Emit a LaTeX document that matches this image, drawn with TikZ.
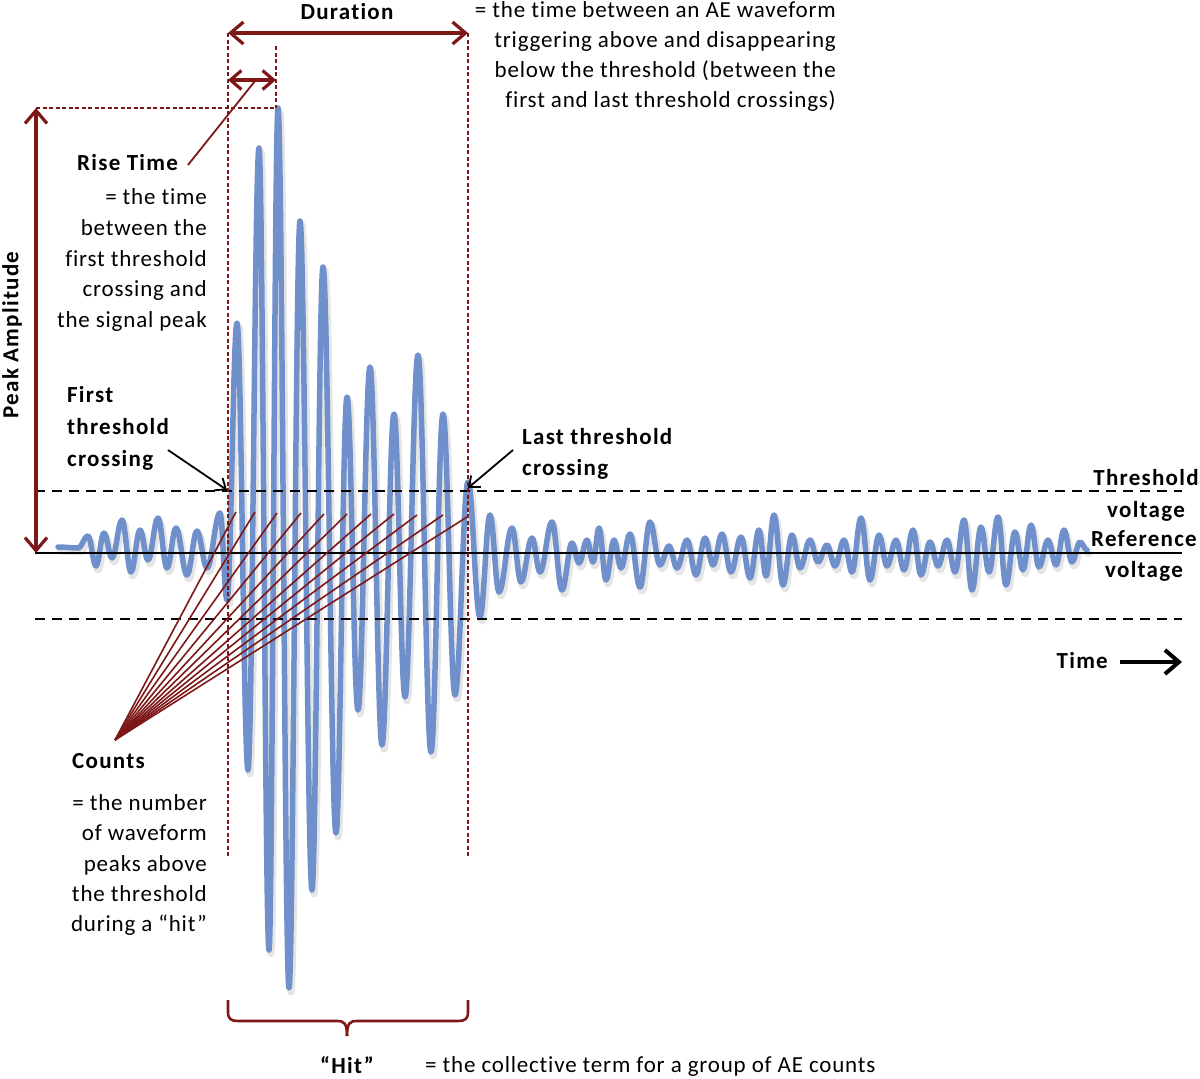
\documentclass[tikz,border=0pt]{standalone}
\usepackage{fontspec}
\setmainfont{Carlito}[LetterSpace=3.5, Ligatures=NoCommon, BoldFeatures={LetterSpace=5.5}]
\usetikzlibrary{arrows.meta}
\definecolor{wave}{RGB}{111,144,203}
\definecolor{dred}{RGB}{125,24,24}
\tikzset{
  wavestyle/.style={wave, line width=5.5pt, line join=round, line cap=round},
  shadowstyle/.style={black, opacity=0.10, line width=7pt, line join=round, line cap=round},
  thr/.style={black, line width=2.4pt, dash pattern=on 10pt off 7pt},
  refl/.style={black, line width=1.8pt},
  rdash/.style={dred, line width=1.3pt, dash pattern=on 4pt off 2.5pt},
  rarrow/.style={dred, line width=3.2pt, {Straight Barb[length=13pt,width=22pt]}-{Straight Barb[length=13pt,width=22pt]}},
  rsmall/.style={dred, line width=3.2pt, {Straight Barb[length=11pt,width=19pt]}-{Straight Barb[length=11pt,width=19pt]}},
  fanline/.style={dred, line width=1.6pt},
  leader/.style={dred, line width=1.8pt},
  barrow/.style={black, line width=1.8pt, -{Straight Barb[length=9pt,width=15pt]}},
  tarrow/.style={black, line width=4pt, -{Straight Barb[length=14pt,width=24pt]}},
  lbl/.style={font=\fontsize{23}{30.5}\selectfont, inner sep=0pt},
  blbl/.style={font=\fontsize{23}{30.5}\selectfont\bfseries, inner sep=0pt},
}
\newcommand\wavepts{78/548, 88/536, 96/566, 104/533, 112/558, 122/520, 131/572, 140/530, 148/560, 158/518, 167/568, 176/528, 187/575, 197/531, 207/568, 220/513, 227/600,
237/323, 248/770, 259/148, 269/950, 278/108, 289/988, 300/221, 312/890, 323/267, 336/833, 347/397, 358/710, 370/367, 382/745, 394/414, 405/697, 418/355, 431/752, 443/414, 455/695, 468/482, 480/617,
490/515, 499/592, 512/528, 521/582, 532/538, 540/572, 552/522, 562/590, 572/543, 579/563, 587/540, 593/562, 599/528, 606/580, 614/540, 621/568, 630/534, 640/587, 650/522, 660/565, 669/546, 677/568, 687/540, 696/575, 705/538, 713/565, 722/534, 731/572, 741/537, 750/578, 759/530, 766/576, 774/515, 783/585, 792/535, 800/568, 810/540, 818/562, 827/545, 835/566, 844/540, 852/572, 861/518, 870/580, 879/535, 887/566, 896/540, 904/570, 913/530, 921/575, 930/542, 938/566, 947/540, 955/572, 964/520, 972/590, 981/527, 989/572, 998/517, 1006/585, 1015/532, 1023/570, 1031/525, 1039/567, 1048/540, 1056/565, 1064/530, 1072/562, 1080/542, 1087/550}
\begin{document}
\begin{tikzpicture}[x=1pt,y=-1pt]
\useasboundingbox (0,0) rectangle (1200,1079);
\fill[white] (0,0) rectangle (1200,1079);

% waveform shadow and waveform
\draw[shadowstyle, shift={(2,4)}] (58,547)
  \foreach \x/\y [remember=\x as \px (initially 58), remember=\y as \py (initially 547)] in \wavepts
  { .. controls ({\px+0.38*(\x-\px)},\py) and ({\x-0.38*(\x-\px)},\y) .. (\x,\y) };
\draw[wavestyle] (58,547)
  \foreach \x/\y [remember=\x as \px (initially 58), remember=\y as \py (initially 547)] in \wavepts
  { .. controls ({\px+0.38*(\x-\px)},\py) and ({\x-0.38*(\x-\px)},\y) .. (\x,\y) };

% key coordinates
\coordinate (durL) at (228,33);
\coordinate (durR) at (468,33);
\coordinate (durLb) at (228,857);
\coordinate (durRb) at (468,857);
\coordinate (riseL) at (228,80);
\coordinate (riseR) at (276,80);
\coordinate (peakTop) at (276,46);
\coordinate (peak) at (276,108);
\coordinate (ampTop) at (36,108);
\coordinate (ampBot) at (36,553);
\coordinate (refL) at (35,553);
\coordinate (refR) at (1182,553);
\coordinate (thrL) at (35,491);
\coordinate (thrR) at (1182,491);
\coordinate (lowL) at (35,619);
\coordinate (lowR) at (1182,619);
\coordinate (firstX) at (227,490);
\coordinate (firstT) at (168,450);
\coordinate (lastX) at (468,488);
\coordinate (lastT) at (513,450);
\coordinate (riseTail) at (188,165);
\coordinate (riseHead) at (255,81);
\coordinate (timeA) at (1120,662);
\coordinate (timeB) at (1182,662);
\coordinate (fan) at (115,740);

% threshold and reference lines
\draw[thr] (thrL) -- (thrR);
\draw[thr] (lowL) -- (lowR);
\draw[refl] (refL) -- (refR);

% red dashed guides
\draw[rdash] (durL) -- (durLb);
\draw[rdash] (durR) -- (durRb);
\draw[rdash] (peakTop) -- (peak);
\draw[rdash] (ampTop) -- (peak);

% red arrows
\draw[rarrow] (durL) -- (durR);
\draw[rsmall] (riseL) -- (riseR);
\draw[rarrow] (ampBot) -- (ampTop);
\draw[leader] (riseTail) -- (riseHead);

% counts fan
\foreach \i/\cx/\cy in {1/236/512, 2/255/512, 3/277/513, 4/301/513, 5/324/514, 6/347/514, 7/371/514, 8/394/514, 9/417/515, 10/443/515, 11/467/517} {
  \coordinate (c\i) at (\cx,\cy);
  \draw[fanline] (fan) -- (c\i);
}

% black arrows
\draw[barrow] (firstT) -- (firstX);
\draw[barrow] (lastT) -- (lastX);
\draw[tarrow] (timeA) -- (timeB);

% hit brace
\coordinate (brL) at (228,1000);
\coordinate (brR) at (468,1000);
\coordinate (brTip) at (347,1036);
\draw[dred, line width=2.6pt, line join=round]
  (brL) -- (228,1012) .. controls (228,1019) and (231,1021) .. (238,1021) -- (337,1021)
  .. controls (344,1021) and (347,1023) .. (brTip);
\draw[dred, line width=2.6pt, line join=round]
  (brR) -- (468,1012) .. controls (468,1019) and (465,1021) .. (458,1021) -- (357,1021)
  .. controls (350,1021) and (347,1023) .. (brTip);

% texts
\node[blbl] (durlbl) at (347,12) {Duration};
\node[lbl, align=right, anchor=east, font=\fontsize{23}{30}\selectfont] (durtxt) at (836,56)
  {= the time between an AE waveform\\triggering above and disappearing\\below the threshold (between the\\first and last threshold crossings)};
\node[blbl, anchor=west] (riselbl) at (77,163) {Rise Time};
\node[lbl, align=right, anchor=east, font=\fontsize{23}{30.75}\selectfont] (risetxt) at (207,260)
  {= the time\\between the\\first threshold\\crossing and\\the signal peak};
\node[blbl, rotate=90] (amplbl) at (12,335) {Peak Amplitude};
\node[blbl, align=left, anchor=west, font=\fontsize{23}{32}\selectfont\bfseries] (firstlbl) at (67,428)
  {First\\threshold\\crossing};
\node[blbl, align=left, anchor=west, font=\fontsize{23}{31}\selectfont\bfseries] (lastlbl) at (522,454)
  {Last threshold\\crossing};
\node[blbl, align=center, font=\fontsize{23}{32}\selectfont\bfseries] (thrlbl) at (1146,495)
  {Threshold\\voltage};
\node[blbl, align=center, font=\fontsize{23}{31}\selectfont\bfseries] (reflbl) at (1144,556)
  {Reference\\voltage};
\node[blbl, anchor=east] (timelbl) at (1108,661) {Time};
\node[blbl, anchor=west] (countlbl) at (72,761) {Counts};
\node[lbl, align=right, anchor=east, font=\fontsize{23}{30.25}\selectfont] (counttxt) at (207,865)
  {= the number\\of waveform\\peaks above\\the threshold\\during a “hit”};
\node[blbl] (hitlbl) at (347,1065) {“Hit”};
\node[lbl, anchor=west] (hittxt) at (425,1066) {= the collective term for a group of AE counts};
\end{tikzpicture}
\end{document}
